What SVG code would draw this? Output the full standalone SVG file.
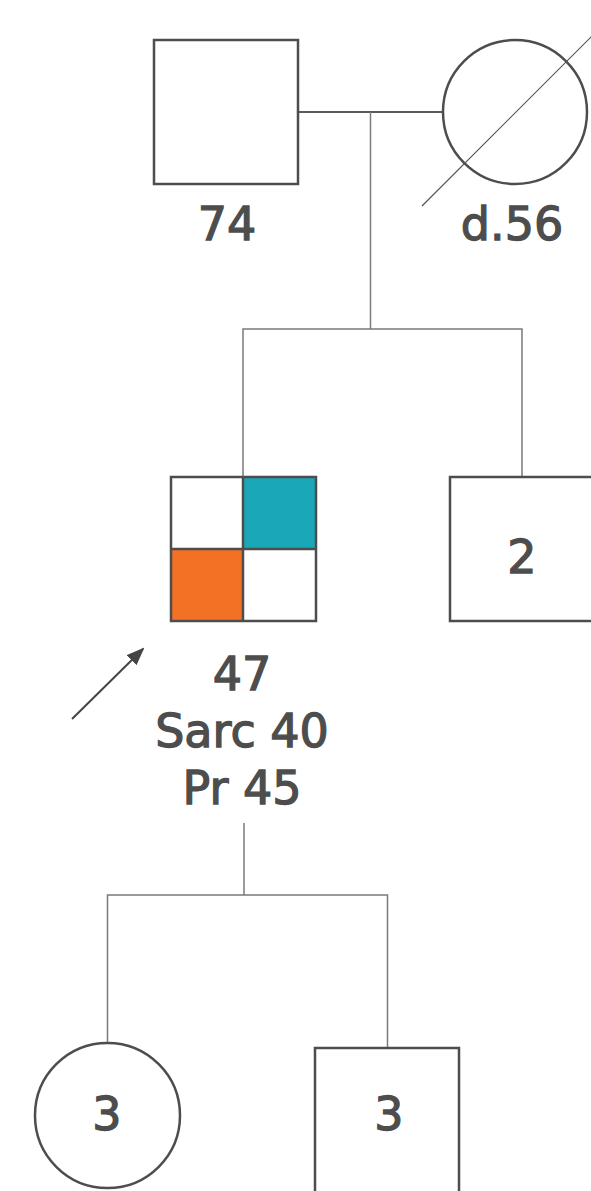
<svg xmlns="http://www.w3.org/2000/svg" width="591" height="1191" viewBox="0 0 591 1191">
<style>
.node{fill:#fff;stroke:#4d4d4d;stroke-width:2.5}
.conn{fill:none;stroke:#7a7a7a;stroke-width:1.5}
.lbl{font-family:"DejaVu Sans","Liberation Sans",sans-serif;font-size:46px;fill:#4d4d4d;stroke:#4d4d4d;stroke-width:1.3;text-anchor:middle}
</style>
<defs>
<marker id="ah" markerWidth="18" markerHeight="14" refX="16" refY="7" orient="auto" markerUnits="userSpaceOnUse" viewBox="0 0 18 14">
<path d="M0,0 L18,7 L0,14 z" fill="#444"/>
</marker>
</defs>
<rect width="591" height="1191" fill="#fff"/>
<g id="connectors">
<line x1="298" y1="112" x2="443" y2="112" stroke="#222" stroke-width="1.5"/>
<line class="conn" x1="370.5" y1="112" x2="370.5" y2="329"/>
<polyline class="conn" points="243,477 243,329 522,329 522,477"/>
<line class="conn" x1="244" y1="823" x2="244" y2="895"/>
<polyline class="conn" points="107.5,1043 107.5,895 387.5,895 387.5,1048"/>
</g>
<g id="n74">
<rect class="node" x="154" y="40" width="144" height="144"/>
<text class="lbl" x="227" y="240">74</text>
</g>
<g id="nd56">
<circle class="node" cx="515" cy="112" r="72"/>
<line x1="422" y1="206" x2="592" y2="36" stroke="#555" stroke-width="1.2"/>
<text class="lbl" x="512" y="240">d.56</text>
</g>
<g id="proband">
<rect x="171" y="477" width="72" height="72" fill="#fff"/>
<rect x="243" y="477" width="73" height="72" fill="#1aa8b8"/>
<rect x="171" y="549" width="72" height="72" fill="#f37124"/>
<rect x="243" y="549" width="73" height="72" fill="#fff"/>
<line x1="243" y1="477" x2="243" y2="621" stroke="#4d4d4d" stroke-width="2.5"/>
<line x1="171" y1="549" x2="316" y2="549" stroke="#4d4d4d" stroke-width="2.5"/>
<rect x="171" y="477" width="145" height="144" fill="none" stroke="#4d4d4d" stroke-width="2.5"/>
<text class="lbl" x="242" y="690">47</text>
<text class="lbl" x="242" y="747">Sarc 40</text>
<text class="lbl" x="242" y="804">Pr 45</text>
<line x1="72" y1="719" x2="143" y2="649" stroke="#444" stroke-width="2" marker-end="url(#ah)"/>
</g>
<g id="n2">
<rect class="node" x="450" y="477" width="150" height="144"/>
<text class="lbl" x="522" y="573">2</text>
</g>
<g id="child-f">
<circle class="node" cx="107.5" cy="1115.5" r="72.5"/>
<text class="lbl" x="107" y="1130">3</text>
</g>
<g id="child-m">
<rect class="node" x="315" y="1048" width="144" height="160"/>
<text class="lbl" x="389" y="1130">3</text>
</g>
</svg>
